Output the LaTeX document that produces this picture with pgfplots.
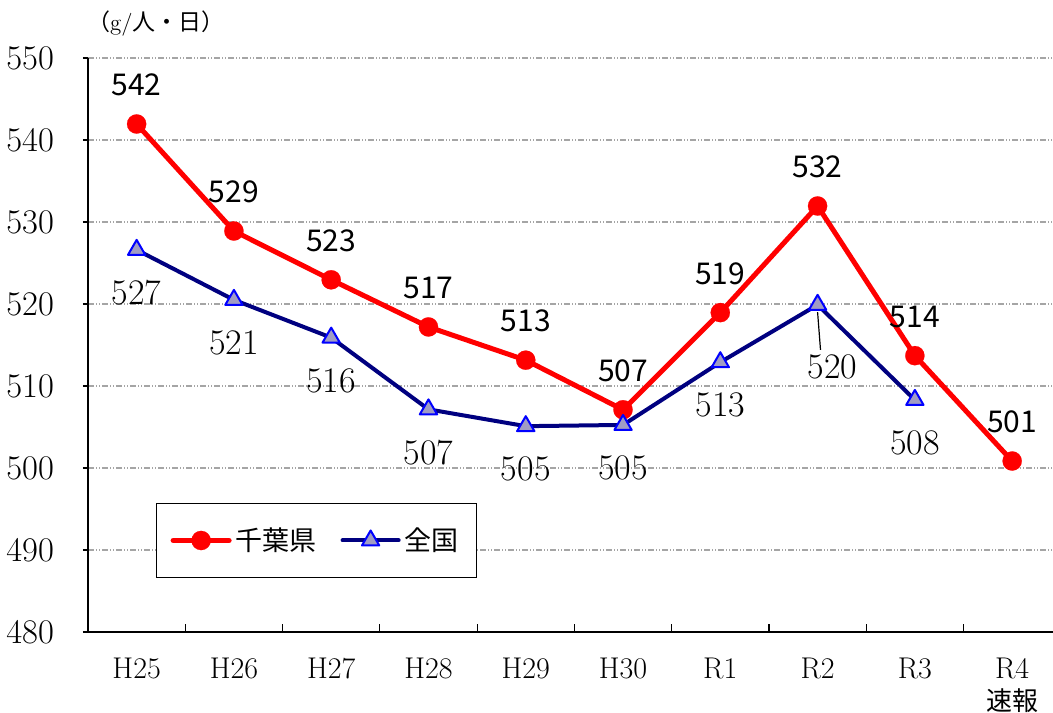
\documentclass[border=0pt]{standalone}
\usepackage{fontspec}
\usepackage{pgfplots}
\pgfplotsset{compat=1.18}
\newfontfamily\cjk{Noto Sans CJK JP}
\definecolor{cred}{RGB}{255,0,0}
\definecolor{cnavy}{RGB}{0,0,128}
\definecolor{tfill}{RGB}{160,156,196}
\definecolor{tedge}{RGB}{0,0,255}
\definecolor{gridc}{RGB}{165,165,165}
\begin{document}
\begin{tikzpicture}
\begin{axis}[
  scale only axis, width=482.5pt, height=287pt,
  xmin=-0.5, xmax=9.42, ymin=480, ymax=550,
  axis x line*=bottom, axis y line*=left,
  axis line style={line width=0.8pt, black},
  ytick={480,490,...,550},
  tick align=outside, major tick length=2.5pt,
  ymajorgrids,
  grid style={gridc, line width=0.6pt, dash pattern=on 3pt off 1pt on 0.5pt off 1pt on 0.5pt off 1pt},
  yticklabel style={font=\fontsize{16}{16}\selectfont, xshift=-11pt},
  xtick={0,...,9},
  xticklabels={H25,H26,H27,H28,H29,H30,R1,R2,R3,{R4\\{\cjk\fontsize{13}{13}\selectfont 速報}}},
  xticklabel style={font=\fontsize{15}{16}\selectfont, align=center, yshift=-7pt},
  xtick style={draw=none},
  extra x ticks={0.5,1.5,...,8.5},
  extra x tick labels={},
  extra x tick style={tick align=inside, major tick length=4pt, xtick style={draw=black, line width=0.6pt}},
  ytick style={black, line width=0.6pt},
  legend style={at={(rel axis cs:0.0705,0.2247)}, anchor=north west, draw=black, line width=0.6pt,
    font=\cjk\fontsize{13.5}{13.5}\selectfont, inner xsep=7pt, inner ysep=10pt,
    /tikz/every even column/.append style={column sep=10pt}},
  legend columns=2,
  legend image code/.code={\draw[mark repeat=2,mark phase=2,#1] plot coordinates {(0pt,0pt) (14pt,0pt) (28pt,0pt)};},
  clip=false,
]
\addplot[cred, line width=2.5pt, line join=round, line cap=round,
  mark=*, mark size=4.8pt, mark options={fill=cred, draw=cred, line width=0.1pt},
  nodes near coords, point meta=explicit symbolic,
  every node near coord/.append style={anchor=center, yshift=19.5pt, text=black, font=\cjk\fontsize{15}{15}\selectfont}]
coordinates {
(0,541.95)[542] (1,528.9)[529] (2,522.95)[523] (3,517.2)[517] (4,513.15)[513]
(5,507.1)[507] (6,518.95)[519] (7,531.95)[532] (8,513.7)[514] (9,500.85)[501]
};
\addlegendentry{千葉県}
\addplot[cnavy, line width=2pt, line join=round, line cap=round,
  mark=triangle*, mark size=5pt, mark options={fill=tfill, draw=tedge, line width=1pt},
  nodes near coords, point meta=explicit symbolic,
  every node near coord/.append style={anchor=center, yshift=-21.5pt, text=black, font=\fontsize{18}{18}\selectfont}]
coordinates {
(0,526.6)[527] (1,520.5)[521] (2,515.9)[516] (3,507.15)[507] (4,505.1)[505]
(5,505.25)[505] (6,512.9)[513] (7,519.9)[\phantom{0}] (8,508.3)[508]
};
\addlegendentry{全国}
\draw[black, line width=0.6pt] (axis cs:7,519.0) -- (axis cs:7.03,514.4);
\node[font=\fontsize{18}{18}\selectfont] at (axis cs:7.155,512.3) {520};
\node[anchor=west, font=\fontsize{11.5}{11.5}\selectfont] at ([xshift=-4pt]rel axis cs:0.0,1.06) {{\cjk （}g/{\cjk 人・日）}};
\end{axis}
\pgfresetboundingbox
\path[use as bounding box] ([xshift=-44pt,yshift=-40.5pt]current axis.south west) rectangle ([yshift=29pt]current axis.north east);
\end{tikzpicture}
\end{document}
